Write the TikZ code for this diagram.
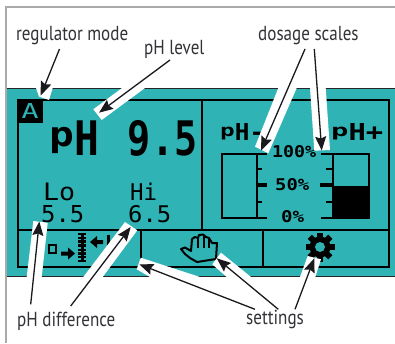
\documentclass[tikz,border=0pt]{standalone}
\usepackage{graphicx}
\usepackage{fontspec}
\setmainfont{PT Sans}[FakeStretch=0.84]
\newfontfamily\lcd{DejaVu Sans Mono}
\usetikzlibrary{arrows.meta}
\definecolor{teal1}{RGB}{47,179,181}
\definecolor{ink}{RGB}{26,26,30}
\definecolor{lbl}{RGB}{50,50,55}
\definecolor{frame}{RGB}{170,170,170}
\newcommand\fitb[3]{\resizebox{#1pt}{#2pt}{#3}}
\newcommand\lowp{\raisebox{.169em}{\scalebox{1}[.72]{p}}}
\tikzset{
  lab/.style={anchor=base west,inner sep=0pt,text=lbl,font=\fontsize{20.3}{20.3}\selectfont},
  lcdb/.style={anchor=base west,inner sep=0pt,text=black,font=\lcd\bfseries\fontsize{20}{20}\selectfont},
  lcdr/.style={anchor=base west,inner sep=0pt,text=black,font=\lcd\fontsize{20}{20}\selectfont},
  rule/.style={line width=2pt,black},
  band/.style={fill=white,draw=none},
  callout/.style={line width=1.3pt,ink,-{Stealth[length=14pt,width=11pt,inset=2pt]}},
  px/.style={fill=black,draw=none}
}
\begin{document}
\begin{tikzpicture}[x=1pt,y=-1pt]
\useasboundingbox (0,0) rectangle (395,343);
\fill[white] (0,0) rectangle (395,343);
\fill[frame] (5,6) rectangle (395,8);
\fill[frame] (5,6) rectangle (7,343);
\fill[teal1] (7,88.5) rectangle (395,276.5);
\draw[line width=1pt,black!85] (7,88.7) -- (395,88.7);
\draw[line width=1pt,black!85] (7,276.3) -- (395,276.3);
% screen frame
\draw[rule] (17.5,100) rectangle (388.5,266.5);
\draw[rule] (17.5,230) -- (388.5,230);
\draw[rule] (201.5,100) -- (201.5,230);
\draw[rule] (140.5,230) -- (140.5,266.5);
\draw[rule] (263,230) -- (263,266.5);
% mode box
\fill[black] (16.5,99) rectangle (43,123);
\node[lcdr,text=teal1] (modeA) at (21.5,118.5) {\fitb{17}{15}{A}};
% main reading
\node[lcdb] (phmain) at (49,155) {\fitb{148}{35}{\lowp H~\hspace{.1em}\scalebox{.93}[1]{9.5}}};
\node[lcdr] (lo) at (43,200.2) {\fitb{32}{17.5}{Lo}};
\node[lcdr] (hi) at (130,200.5) {\fitb{27}{17.5}{Hi}};
\node[lcdr] (lov) at (41,222) {\fitb{43}{17}{5.5}};
\node[lcdr] (hiv) at (128,222) {\fitb{43}{17}{6.5}};
% scale captions
\node[lcdb] (phminus) at (220,140) {\fitb{44}{17}{\lowp H-}};
\node[lcdb] (phplus) at (331,140) {\fitb{52}{17}{\lowp H+}};
\node[lcdb] (p100) at (272,157) {\fitb{44}{12}{100\%}};
\node[lcdb] (p50) at (275,190) {\fitb{34}{12}{50\%}};
\node[lcdb] (p0) at (281,222) {\fitb{23}{12}{0\%}};
% left scale
\draw[rule] (267,218) -- (222,218) -- (222,154) -- (267,154);
\draw[rule] (257,154) -- (257,218);
\draw[rule] (257,169) -- (262,169);
\draw[rule] (257,202) -- (262,202);
\draw[line width=4.5pt] (257,185) -- (267,185);
% right scale
\draw[rule] (321,218) -- (369,218) -- (369,154) -- (321,154);
\draw[rule] (333,154) -- (333,218);
\fill[black] (333,186) rectangle (369,218);
\draw[rule] (326,169) -- (333,169);
\draw[rule] (326,202) -- (333,202);
\draw[line width=4.5pt] (320,185) -- (333,185);
% icon 1
\draw[rule] (49,245) rectangle (56,253);
\fill[px] (61,251.5) -- (68,251.5) -- (68,247.5) -- (75,253.5) -- (68,259.5) -- (68,255.5) -- (61,255.5) -- cycle;
\fill[px] (80.5,234) rectangle (83.5,262);
\foreach \ty in {234,238,241.5,245.5,250,253.5,257,261}
  \fill[px] (78,\ty-1.2) rectangle (86,\ty+1.2);
\fill[px] (103,240) -- (97,240) -- (97,236) -- (90,242) -- (97,248) -- (97,244) -- (103,244) -- cycle;
\fill[px] (107,235) rectangle (110,250);
% hand icon
\draw[line width=2pt,black,line join=round,fill=teal1]
  (181,249) -- (185,247.5) -- (191,251) -- (192,239) -- (195,237) -- (198,238) -- (199,235) -- (203,234.5) -- (206,237) -- (209,238) -- (212,243) -- (217,243) -- (216,259) -- (197,262) -- (190,258) -- (185,254) -- cycle;
\draw[line width=2pt] (198,238) -- (198,248) (203.5,235) -- (203.5,248) (209,238) -- (209,248);
% gear icon
\fill[black] (320,247) circle (10.5);
\foreach \a in {0,45,...,315}
  \fill[black,rotate around={\a:(320,247)}] (317,232.5) rectangle (323,240);
\fill[teal1] (320,247) circle (5);
% white bands
\fill[band] (36,88) -- (52.7,88) -- (49,100) -- (39,96.5) -- cycle;
\fill[band] (93.3,109.3) -- (101.7,120) -- (145,88) -- (122,88) -- cycle;
\fill[band] (255,146.7) -- (268.3,153.3) -- (296.7,88) -- (278.3,88) -- cycle;
\fill[band] (314.3,150.7) -- (330,150) -- (325.7,88) -- (310,88) -- cycle;
\fill[band] (33.3,221) -- (47.7,222.7) -- (41.7,277) -- (26.7,277) -- cycle;
\fill[band] (125,222) -- (137.3,230.3) -- (102.7,277) -- (83.3,277) -- cycle;
\fill[band] (140.7,257.7) -- (136.7,269.3) -- (150,277) -- (200,277) -- cycle;
\fill[band] (212.3,264.3) -- (221,252.7) -- (251,277) -- (226.7,277) -- cycle;
\fill[band] (307.7,256) -- (321,259.3) -- (315.3,277) -- (300,277) -- cycle;
% labels
\node[lab] (regmode) at (16,40.5) {regulator mode};
\node[lab] (phlevel) at (144,54) {pH level};
\node[lab] (dosage) at (258,40.5) {dosage scales};
\node[lab] (phdiff) at (17,326) {pH difference};
\node[lab] (settings) at (246,324) {settings};
% callout ends
\coordinate (sA) at (59.5,49);   \coordinate (tA) at (40.7,95.5);
\coordinate (sB) at (170,60);    \coordinate (tB) at (99,112.7);
\coordinate (sC) at (305,49);    \coordinate (tC) at (261,150.5);
\coordinate (sD) at (314.3,49);  \coordinate (tD) at (321.7,150.5);
\coordinate (sE) at (30.7,304.3);\coordinate (tE) at (39.3,221.5);
\coordinate (sF) at (70.7,306);  \coordinate (tF) at (130.7,227);
\coordinate (sG) at (255,309.3); \coordinate (tG) at (139.3,264.3);
\coordinate (sH) at (278.3,309.3);\coordinate (tH) at (216.7,258.3);
\coordinate (sI) at (295,309.3); \coordinate (tI) at (314.3,258.3);
\foreach \s/\t in {sA/tA,sB/tB,sC/tC,sD/tD,sE/tE,sF/tF,sG/tG,sH/tH,sI/tI}
  \draw[callout] (\s) -- (\t);
\end{tikzpicture}
\end{document}
